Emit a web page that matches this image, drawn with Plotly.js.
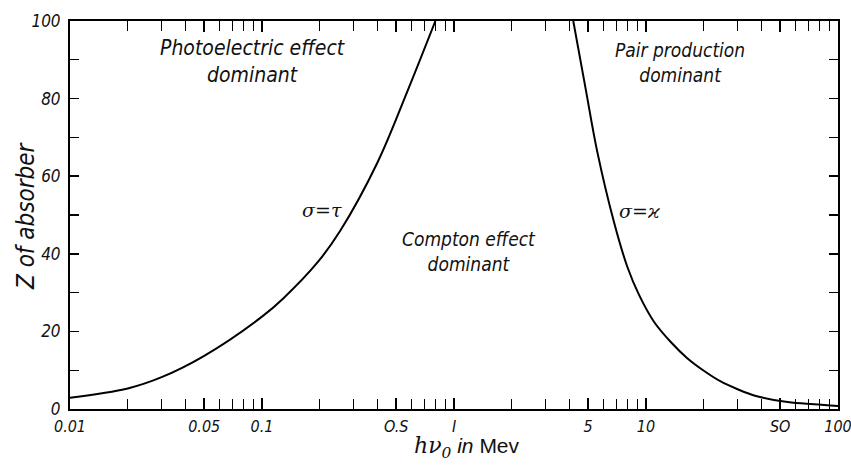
<!DOCTYPE html>
<html>
<head>
<meta charset="utf-8">
<script src="https://cdn.plot.ly/plotly-3.0.1.min.js"></script>
<style>html,body{margin:0;padding:0;background:#fff;}#chart{width:851px;height:466px;}</style>
</head>
<body>
<div id="chart"></div>
<script>
// Boundary where photoelectric = Compton (sigma = tau)
const photoE = [0.01, 0.02, 0.03, 0.05, 0.1, 0.129, 0.194, 0.256, 0.40, 0.571, 0.80];
const photoZ = [2.9, 5.3, 8.2, 13.7, 23.8, 28.5, 37.7, 46.0, 63.6, 81.8, 100];
// Boundary where Compton = pair production (sigma = kappa)
const pairE = [4.18, 4.85, 5.58, 6.81, 8.0, 9.2, 11.0, 13.5, 16.4, 20.1, 24.5, 30.0, 36.6, 54.7, 75, 100];
const pairZ = [100, 82.5, 66.2, 48.2, 36.6, 29.4, 22.5, 17.2, 13.1, 9.8, 7.1, 5.1, 3.5, 1.8, 1.2, 0.75];
// Tick labels
const xTickVals = [0.01, 0.05, 0.1, 0.5, 1, 5, 10, 50, 100];
const xTickText = ["0.01", "0.05", "0.1", "O.S", "I", "5", "10", "SO", "100"];
const yTickVals = [0, 20, 40, 60, 80, 100];
const yTickText = ["0", "20", "40", "60", "80", "100"];

const minorX = [];
[0.01, 0.1, 1, 10].forEach(function (d) {
  for (let k = 2; k <= 9; k++) minorX.push(+(d * k).toPrecision(3));
});

const cond = "'Liberation Sans Narrow', 'DejaVu Sans Condensed', 'Liberation Sans', sans-serif";
const tickFont = {family: cond, size: 16, color: '#111', style: 'italic'};
function lf(sz) { return {family: cond, size: sz, color: '#111', style: 'italic'}; }
const PX = function (p) { return (p - 70) / 768; };
const PY = function (p) { return (409 - p) / 388; };

const traces = [
  {x: photoE, y: photoZ, mode: 'lines', line: {color: '#000', width: 2, shape: 'spline', smoothing: 1}, hoverinfo: 'skip'},
  {x: pairE, y: pairZ, mode: 'lines', line: {color: '#000', width: 2, shape: 'spline', smoothing: 1}, hoverinfo: 'skip'}
];

const layout = {
  width: 851, height: 466,
  margin: {l: 70, r: 13, t: 21, b: 57},
  paper_bgcolor: '#fff', plot_bgcolor: '#fff',
  showlegend: false,
  xaxis: {
    type: 'log', range: [-2, 2],
    tickmode: 'array', tickvals: xTickVals, ticktext: xTickText,
    ticks: 'inside', ticklen: 11, tickwidth: 1.5, tickcolor: '#000',
    minor: {tickmode: 'array', tickvals: minorX, ticks: 'inside', ticklen: 10, tickwidth: 1.2, tickcolor: '#000', showgrid: false},
    showline: true, linecolor: '#000', linewidth: 2, mirror: 'ticks',
    showgrid: false, zeroline: false,
    tickfont: tickFont, ticklabelstandoff: 2, ticklabeloverflow: 'allow'
  },
  yaxis: {
    range: [0, 100],
    tickmode: 'array', tickvals: yTickVals, ticktext: yTickText,
    ticks: 'inside', ticklen: 9, tickwidth: 1.5, tickcolor: '#000',
    minor: {dtick: 10, ticks: 'inside', ticklen: 9, tickwidth: 1.2, tickcolor: '#000', showgrid: false},
    showline: true, linecolor: '#000', linewidth: 2, mirror: 'ticks',
    showgrid: false, zeroline: false,
    tickfont: {family: cond, size: 17, color: '#111', style: 'italic'}, ticklabelstandoff: 4, ticklabeloverflow: 'allow'
  },
  annotations: [
    {xref: 'paper', yref: 'paper', x: PX(252), y: PY(62), xanchor: 'center', yanchor: 'middle', text: 'Photoelectric effect<br>dominant', showarrow: false, font: lf(21), align: 'center'},
    {xref: 'paper', yref: 'paper', x: PX(680), y: PY(63), xanchor: 'center', yanchor: 'middle', text: 'Pair production<br>dominant', showarrow: false, font: lf(19), align: 'center'},
    {xref: 'paper', yref: 'paper', x: PX(469), y: PY(251), xanchor: 'center', yanchor: 'middle', text: 'Compton effect<br>dominant', showarrow: false, font: lf(19), align: 'center'},
    {xref: 'paper', yref: 'paper', x: PX(322), y: PY(210), xanchor: 'center', yanchor: 'middle', text: 'σ=τ', showarrow: false, font: {family: "'DejaVu Serif', serif", size: 19, color: '#111', style: 'italic'}},
    {xref: 'paper', yref: 'paper', x: PX(639), y: PY(211), xanchor: 'center', yanchor: 'middle', text: 'σ=ϰ', showarrow: false, font: {family: "'DejaVu Serif', serif", size: 19, color: '#111', style: 'italic'}},
    {xref: 'paper', yref: 'paper', x: PX(467), y: PY(447), xanchor: 'center', yanchor: 'middle', text: "<span style=\"font-family:'DejaVu Serif',serif;font-size:22px\"><i>hν<sub>0</sub></i></span><span style=\"font-size:21px\"> <i>in</i> Mev</span>", showarrow: false, font: {family: "'Liberation Sans', Arial, sans-serif", size: 21, color: '#111'}},
    {xref: 'paper', yref: 'paper', x: PX(26), y: PY(216), xanchor: 'center', yanchor: 'middle', text: 'Z of absorber', textangle: -90, showarrow: false, font: lf(24)}
  ]
};

Plotly.newPlot('chart', traces, layout, {staticPlot: true, displayModeBar: false});
</script>
</body>
</html>
